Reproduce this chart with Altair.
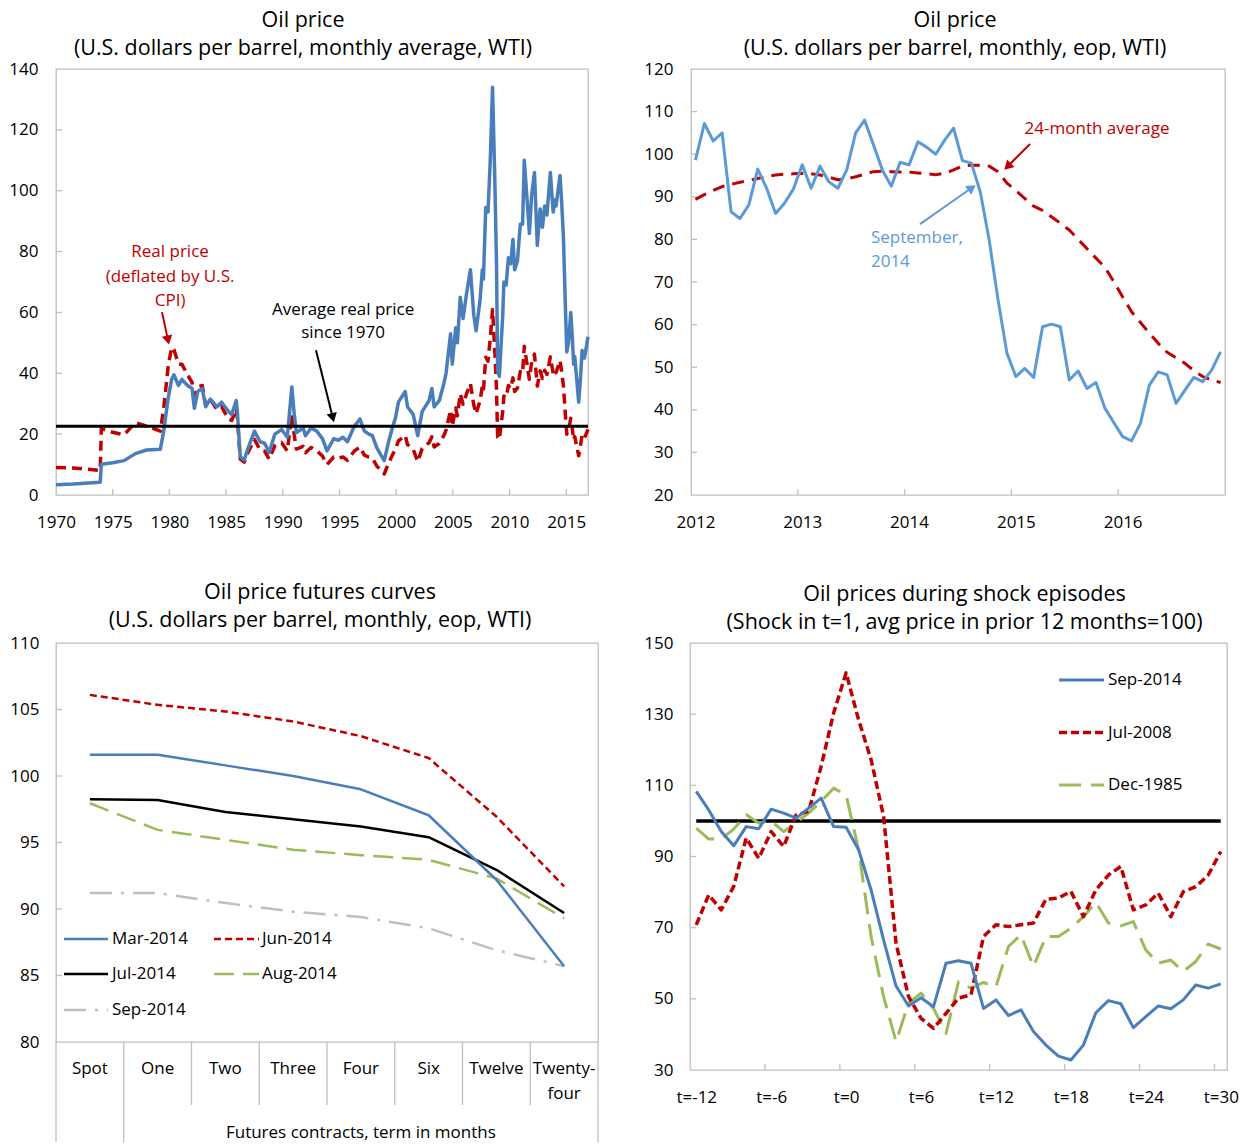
import json
import math
import altair as alt
import pandas as pd

FONT = "Open Sans"
INK = "#000000"
FRAME = "#BFBFBF"
STEEL = "#4A7EBB"
SKY = "#5B9BD5"
RED = "#C00000"
GREEN = "#9BBB59"
SILVER = "#BFBFBF"
LBL = 17

# ======================= TOP-LEFT: monthly average WTI, 1970-2016 =======================
tl_year = [
    1970.0, 1971.5, 1973.9, 1974.0, 1975.0, 1976.0, 1977.0, 1978.0, 1979.2, 1979.5,
    1979.9, 1980.2, 1980.4, 1980.8, 1981.1, 1981.6, 1982.0, 1982.2, 1982.5, 1982.9,
    1983.2, 1983.6, 1984.2, 1984.6, 1985.2, 1985.5, 1985.9, 1986.0, 1986.25, 1986.6,
    1986.9, 1987.5, 1988.0, 1988.4, 1988.8, 1989.3, 1989.9, 1990.4, 1990.8, 1991.0,
    1991.2, 1991.8, 1992.0, 1992.5, 1993.0, 1993.5, 1993.9, 1994.5, 1994.9, 1995.3,
    1995.7, 1996.3, 1996.8, 1997.2, 1997.6, 1997.9, 1998.3, 1998.6, 1998.95, 1999.3,
    1999.7, 1999.95, 2000.2, 2000.45, 2000.8, 2001.0, 2001.5, 2001.9, 2002.3, 2002.9,
    2003.15, 2003.35, 2003.8, 2004.2, 2004.4, 2004.8, 2004.95, 2005.25, 2005.4, 2005.65,
    2005.9, 2006.2, 2006.55, 2006.85, 2007.05, 2007.4, 2007.6, 2007.7, 2007.9, 2008.1,
    2008.3, 2008.5, 2008.7, 2008.85, 2008.95, 2009.1, 2009.4, 2009.5, 2009.7, 2009.9,
    2010.1, 2010.3, 2010.45, 2010.7, 2010.95, 2011.15, 2011.3, 2011.55, 2011.75, 2011.95,
    2012.2, 2012.45, 2012.7, 2012.9, 2013.1, 2013.3, 2013.6, 2013.85, 2014.0, 2014.1,
    2014.45, 2014.6, 2014.75, 2014.95, 2015.05, 2015.2, 2015.4, 2015.55, 2015.65, 2015.75,
    2015.95, 2016.1, 2016.25, 2016.4, 2016.6, 2016.75, 2016.92]
tl_nominal = [
    3.4, 3.6, 4.2, 10.1, 10.6, 11.3, 13.6, 14.8, 15.0, 21.0,
    32.0, 38.0, 39.5, 36.0, 38.0, 36.0, 35.0, 28.5, 34.0, 35.0,
    29.0, 31.5, 29.0, 30.5, 27.5, 26.5, 31.0, 27.0, 12.5, 11.5,
    15.0, 21.0, 17.5, 17.0, 14.0, 20.0, 21.5, 19.0, 35.5, 27.0,
    20.5, 22.0, 19.5, 22.0, 21.0, 18.5, 14.5, 18.5, 18.0, 19.0,
    17.5, 22.5, 25.0, 21.0, 20.0, 19.5, 15.5, 13.5, 11.3, 17.0,
    22.5, 25.5, 30.5, 32.0, 34.0, 29.0, 26.5, 19.5, 27.5, 31.0,
    35.0, 29.0, 31.0, 36.5, 40.0, 53.0, 43.0, 55.0, 50.0, 65.0,
    58.0, 66.0, 74.0, 59.0, 54.0, 64.0, 74.0, 71.0, 94.5, 93.0,
    110.0, 134.0, 104.0, 76.0, 41.0, 39.0, 59.0, 70.0, 69.0, 78.0,
    76.0, 84.0, 74.0, 77.0, 89.0, 89.0, 110.0, 97.0, 86.0, 98.5,
    106.0, 82.0, 94.0, 88.0, 95.0, 92.0, 106.0, 93.0, 97.0, 95.0,
    105.0, 96.0, 85.0, 59.0, 47.0, 50.0, 60.0, 51.0, 43.0, 45.5,
    37.0, 30.5, 38.0, 47.5, 45.0, 48.0, 52.0]
tl_real = [
    9.0, 8.9, 8.1, 21.8, 20.6, 19.8, 23.8, 22.6, 21.0, 28.5,
    42.5, 48.5, 47.8, 43.0, 43.0, 39.5, 37.0, 30.0, 35.5, 36.0,
    29.5, 31.5, 28.0, 29.0, 25.0, 24.5, 28.5, 25.0, 11.8, 10.8,
    13.7, 18.3, 14.8, 14.4, 11.8, 16.2, 17.2, 14.5, 26.5, 20.0,
    15.1, 16.0, 13.9, 15.6, 14.5, 12.8, 10.0, 12.5, 12.1, 12.5,
    11.4, 14.4, 15.8, 13.1, 12.4, 12.1, 9.5, 8.3, 6.9, 10.2,
    13.4, 15.1, 17.8, 18.5, 19.6, 16.6, 15.0, 11.0, 15.3, 17.2,
    19.1, 15.8, 16.9, 19.5, 21.3, 27.9, 22.6, 28.6, 26.0, 33.3,
    29.8, 33.2, 36.6, 29.5, 26.7, 31.0, 35.8, 34.3, 45.3, 44.0,
    51.5, 61.0, 47.4, 34.8, 19.0, 18.2, 27.5, 32.5, 32.0, 36.0,
    35.0, 38.5, 34.0, 35.2, 40.6, 40.0, 48.9, 42.8, 38.0, 43.7,
    46.3, 35.8, 40.8, 38.3, 41.0, 39.6, 45.4, 39.9, 41.2, 40.2,
    44.2, 40.5, 35.9, 25.1, 20.0, 21.2, 25.2, 21.4, 18.1, 19.2,
    15.6, 12.9, 16.0, 19.9, 18.8, 20.0, 21.6]
tl_avg_real = 22.6
tl_xdom = [1970, 2016.92]
tl_ydom = [0, 140]
tl_xticks = [1970, 1975, 1980, 1985, 1990, 1995, 2000, 2005, 2010, 2015]
tl_yticks = [0, 20, 40, 60, 80, 100, 120, 140]
tl_title = ["Oil price", "(U.S. dollars per barrel, monthly average, WTI)"]
tl_note_real = ["Real price", "(deflated by U.S.", "CPI)"]
tl_note_real_x, tl_note_real_y = 1980.06, [79.9, 71.6, 63.8]
tl_note_avg = ["Average real price", "since 1970"]
tl_note_avg_x, tl_note_avg_y = 1995.32, [60.8, 53.2]

# ======================= TOP-RIGHT: monthly eop, 2012-2016 =======================
tr_year_labels = ["2012", "2013", "2014", "2015", "2016"]
tr_price = [
    98.6, 107.2, 103.1, 105.0, 86.5, 84.9, 88.1, 96.5, 92.0, 86.1, 88.5, 91.8,
    97.5, 92.0, 97.2, 93.5, 92.0, 96.3, 105.0, 108.0, 102.2, 96.3, 92.5, 98.1,
    97.5, 102.9, 101.6, 100.0, 103.3, 106.1, 98.5, 97.9, 91.2, 79.9, 65.8, 53.3,
    47.8, 49.7, 47.6, 59.5, 60.1, 59.5, 47.0, 49.1, 45.0, 46.4, 40.4, 37.0,
    33.7, 32.7, 36.8, 45.8, 48.9, 48.2, 41.5, 44.6, 47.6, 46.6, 49.3, 53.6]
tr_avg24 = [
    89.4, 90.5, 91.5, 92.4, 92.9, 93.4, 93.8, 94.3, 94.8, 95.1, 95.3, 95.4,
    95.5, 95.4, 95.1, 94.6, 94.0, 94.2, 94.7, 95.3, 95.9, 96.0, 95.9, 95.8,
    95.8, 95.6, 95.4, 95.2, 95.5, 96.3, 97.2, 97.4, 97.4, 97.2, 95.9, 93.2,
    91.5, 89.6, 87.8, 86.8, 85.3, 83.8, 82.2, 80.0, 77.8, 75.6, 73.5, 70.1,
    66.5, 63.0, 60.5, 58.0, 55.6, 53.5, 52.2, 50.9, 49.2, 47.8, 47.0, 46.4]
tr_yticks = [20, 30, 40, 50, 60, 70, 80, 90, 100, 110, 120]
tr_title = ["Oil price", "(U.S. dollars per barrel, monthly, eop, WTI)"]
tr_note_avg = "24-month average"
tr_note_avg_xy = (45.12, 105.9)
tr_note_sep = ["September,", "2014"]
tr_note_sep_x, tr_note_sep_y = 19.72, [80.3, 74.7]

# ======================= BOTTOM-LEFT: futures curves =======================
bl_terms = ["Spot", "One", "Two", "Three", "Four", "Six", "Twelve", "Twenty-four"]
bl_group_label = "Futures contracts, term in months"
bl_series = ["Mar-2014", "Jun-2014", "Jul-2014", "Aug-2014", "Sep-2014"]
bl_mar = [101.6, 101.6, 100.8, 100.0, 99.0, 97.05, 92.2, 85.7]
bl_jun = [106.1, 105.35, 104.85, 104.1, 103.0, 101.35, 96.95, 91.7]
bl_jul = [98.25, 98.2, 97.3, 96.75, 96.2, 95.4, 92.95, 89.7]
bl_aug = [97.95, 95.95, 95.2, 94.45, 94.05, 93.7, 92.3, 89.3]
bl_sep = [91.2, 91.2, 90.45, 89.8, 89.4, 88.55, 86.9, 85.7]
bl_yticks = [80, 85, 90, 95, 100, 105, 110]
bl_title = ["Oil price futures curves", "(U.S. dollars per barrel, monthly, eop, WTI)"]

# ======================= BOTTOM-RIGHT: shock episodes =======================
br_t_labels = [-12, -6, 0, 6, 12, 18, 24, 30]
br_series = ["Sep-2014", "Jul-2008", "Dec-1985"]
br_sep2014 = [108.3, 103.1, 97.0, 93.0, 98.4, 97.8, 103.3, 102.2, 100.8, 103.6, 106.4, 98.4, 98.2,
              91.9, 80.6, 66.6, 53.6, 48.0, 50.3, 47.8, 60.0, 60.7, 60.0,
              47.3, 49.7, 45.3, 46.9, 40.8, 37.0, 33.9, 32.8, 37.0, 46.1,
              49.5, 48.6, 41.9, 45.0, 48.0, 47.2, 49.7, 53.9, 53.0, 54.2]
br_jul2008 = [70.8, 79.2, 75.0, 81.6, 95.2, 89.5, 97.0, 92.8, 101.7, 102.7, 115.3, 130.3, 141.6,
              128.4, 117.2, 101.3, 65.6, 50.6, 44.5, 41.7, 45.9, 50.2, 51.1,
              67.5, 70.8, 70.3, 70.8, 71.3, 78.0, 78.3, 80.2, 73.1, 80.6,
              84.8, 87.2, 75.0, 76.4, 79.7, 73.1, 80.1, 81.5, 84.8, 91.4]
br_dec1985 = [98.0, 94.9, 94.9, 97.7, 101.7, 99.4, 100.0, 97.0, 99.6, 102.2, 105.5, 109.2, 107.3,
              91.9, 67.5, 50.6, 38.0, 48.8, 51.6, 47.3, 40.3, 54.8, 53.0,
              54.6, 53.4, 64.7, 68.0, 59.1, 67.5, 67.5, 69.8, 73.1, 77.1,
              71.3, 70.5, 71.7, 63.7, 60.0, 60.9, 57.7, 60.5, 65.4, 64.0]
br_base = 100
br_yticks = [30, 50, 70, 90, 110, 130, 150]
br_title = ["Oil prices during shock episodes", "(Shock in t=1, avg price in prior 12 months=100)"]

# ======================= panel sizes =======================
TL_W, TL_H = 532, 426
TR_W, TR_H = 534, 426
BL_W, BL_H = 542, 399
BR_W, BR_H = 537, 427
ROW_GAP = 148
XPAD = 19


def axis(values, pad, **kw):
    return alt.Axis(values=values, title=None, labelPadding=pad, labelFlush=False,
                    labelOverlap=False, ticks=False, tickSize=0, domain=False, grid=False, **kw)


def line(xs, ys, xe, ye, color, width, dash=None):
    kw = dict(color=color, strokeWidth=width, strokeJoin="round", strokeCap="butt")
    if dash:
        kw["strokeDash"] = dash
    df = pd.DataFrame({"x": xs, "y": ys})
    return alt.Chart(df).mark_line(**kw).encode(x=xe, y=ye)


def inner_yticks(vals, ye):
    return alt.Chart(pd.DataFrame({"y": vals})).mark_rule(color=FRAME, strokeWidth=1.3).encode(
        y=ye, x=alt.value(0), x2=alt.value(6))


def inner_xticks(vals, xe, H):
    return alt.Chart(pd.DataFrame({"x": vals})).mark_rule(color=FRAME, strokeWidth=1.3).encode(
        x=xe, y=alt.value(H), y2=alt.value(H - 6))


def texts(xs, ys, labels, xe, ye, color, align="center"):
    df = pd.DataFrame({"x": xs, "y": ys, "t": labels})
    return alt.Chart(df).mark_text(color=color, align=align, baseline="middle", font=FONT,
                                   fontSize=LBL).encode(x=xe, y=ye, text="t:N")


def arrow(x1, y1, x2, y2, xdom, ydom, W, H, xe, ye, color, width=2.0, size=110, back=5.0):
    sx = W / (xdom[1] - xdom[0])
    sy = H / (ydom[1] - ydom[0])
    dx, dy = (x2 - x1) * sx, -(y2 - y1) * sy
    L = math.hypot(dx, dy)
    ux, uy = dx / L, dy / L
    ang = math.degrees(math.atan2(dx, -dy)) % 360
    hx, hy = x2 - back * ux / sx, y2 + back * uy / sy
    shaft = alt.Chart(pd.DataFrame({"x": [x1], "y": [y1], "x2": [hx], "y2": [hy]})).mark_rule(
        color=color, strokeWidth=width).encode(x=xe, y=ye, x2="x2:Q", y2="y2:Q")
    head = alt.Chart(pd.DataFrame({"x": [hx], "y": [hy]})).mark_point(
        shape="triangle-up", filled=True, color=color, opacity=1, size=size, angle=ang,
        strokeWidth=0).encode(x=xe, y=ye)
    return [shaft, head]


def legend_entry(label, color, width, dash, x0, x1, tx, y):
    kw = dict(color=color, strokeWidth=width, strokeCap="butt")
    if dash:
        kw["strokeDash"] = dash
    df = pd.DataFrame({"t": [label]})
    sample = alt.Chart(df).mark_rule(**kw).encode(x=alt.value(x0), x2=alt.value(x1), y=alt.value(y))
    txt = alt.Chart(df).mark_text(align="left", baseline="middle", font=FONT, fontSize=LBL,
                                  color=INK).encode(x=alt.value(tx), y=alt.value(y), text="t:N")
    return [sample, txt]


# ----------------------- TOP-LEFT panel -----------------------
tl_x = alt.X("x:Q", scale=alt.Scale(domain=tl_xdom, nice=False, zero=False),
             axis=axis(tl_xticks, XPAD, format="d"))
tl_y = alt.Y("y:Q", scale=alt.Scale(domain=tl_ydom, nice=False, zero=False),
             axis=axis(tl_yticks, 18))
tl_layers = [
    inner_xticks(tl_xticks[1:], tl_x, TL_H),
    inner_yticks(tl_yticks[1:-1], tl_y),
    line(tl_year, tl_real, tl_x, tl_y, RED, 3.5, [10, 6]),
    line(tl_year, tl_nominal, tl_x, tl_y, STEEL, 3.5),
    alt.Chart(pd.DataFrame({"y": [tl_avg_real]})).mark_rule(color=INK, strokeWidth=3).encode(y=tl_y),
    texts([tl_note_real_x] * 3, tl_note_real_y, tl_note_real, tl_x, tl_y, RED),
    texts([tl_note_avg_x] * 2, tl_note_avg_y, tl_note_avg, tl_x, tl_y, INK),
]
tl_layers += arrow(1979.35, 60.1, 1979.97, 49.3, tl_xdom, tl_ydom, TL_W, TL_H, tl_x, tl_y, RED)
tl_layers += arrow(1992.93, 47.6, 1994.52, 23.8, tl_xdom, tl_ydom, TL_W, TL_H, tl_x, tl_y, INK)
tl = alt.layer(*tl_layers).properties(
    width=TL_W, height=TL_H, title=alt.TitleParams(text=tl_title, dx=-19))

# ----------------------- TOP-RIGHT panel -----------------------
n_tr = len(tr_price)
tr_xdom = [-0.5, n_tr - 0.5]
tr_ydom = [20, 120]
tr_label_expr = json.dumps(tr_year_labels) + "[floor(datum.value / 12)]"
tr_x = alt.X("x:Q", scale=alt.Scale(domain=tr_xdom, nice=False, zero=False),
             axis=axis([12 * i for i in range(len(tr_year_labels))], XPAD, labelExpr=tr_label_expr))
tr_y = alt.Y("y:Q", scale=alt.Scale(domain=tr_ydom, nice=False, zero=False),
             axis=axis(tr_yticks, 18))
tr_idx = list(range(n_tr))
tr_layers = [
    inner_xticks([12 * i - 0.5 for i in range(1, len(tr_year_labels))], tr_x, TR_H),
    inner_yticks(tr_yticks[1:-1], tr_y),
    line(tr_idx, tr_avg24, tr_x, tr_y, RED, 3, [12, 8]),
    line(tr_idx, tr_price, tr_x, tr_y, SKY, 3),
    texts([tr_note_avg_xy[0]], [tr_note_avg_xy[1]], [tr_note_avg], tr_x, tr_y, RED),
    texts([tr_note_sep_x] * 2, tr_note_sep_y, tr_note_sep, tr_x, tr_y, SKY, align="left"),
]
tr_layers += arrow(37.6, 102.4, 34.67, 96.3, tr_xdom, tr_ydom, TR_W, TR_H, tr_x, tr_y, RED)
tr_layers += arrow(25.23, 83.6, 31.52, 92.8, tr_xdom, tr_ydom, TR_W, TR_H, tr_x, tr_y, SKY)
tr = alt.layer(*tr_layers).properties(
    width=TR_W, height=TR_H, title=alt.TitleParams(text=tr_title, dx=-3))

# ----------------------- BOTTOM-LEFT panel -----------------------
n_bl = len(bl_terms)
bl_x = alt.X("x:Q", scale=alt.Scale(domain=[-0.5, n_bl - 0.5], nice=False, zero=False), axis=None)
bl_y = alt.Y("y:Q", scale=alt.Scale(domain=[80, 110], nice=False, zero=False),
             axis=axis(bl_yticks, 17))
bl_idx = list(range(n_bl))
bl_line1 = [t.split("-")[0] + ("-" if "-" in t else "") for t in bl_terms]
bl_line2 = [t.split("-")[1] if "-" in t else "" for t in bl_terms]
bl_styles = {
    "Mar-2014": (bl_mar, STEEL, 2.5, None),
    "Jun-2014": (bl_jun, RED, 2.5, [7, 4]),
    "Jul-2014": (bl_jul, INK, 2.5, None),
    "Aug-2014": (bl_aug, GREEN, 2.5, [20, 9]),
    "Sep-2014": (bl_sep, SILVER, 2.5, [22, 9, 3, 9]),
}
bl_layers = [inner_yticks(bl_yticks[1:-1], bl_y)]
for name in ["Sep-2014", "Aug-2014", "Jul-2014", "Mar-2014", "Jun-2014"]:
    vals, col, w, d = bl_styles[name]
    bl_layers.append(line(bl_idx, vals, bl_x, bl_y, col, w, d))
bounds = [i - 0.5 for i in range(n_bl + 1)]
long_b = [bounds[0], bounds[1], bounds[-1]]
short_b = bounds[2:-1]
bl_layers.append(alt.Chart(pd.DataFrame({"x": short_b})).mark_rule(color=FRAME, strokeWidth=1.3).encode(
    x=bl_x, y=alt.value(BL_H), y2=alt.value(BL_H + 63)))
bl_layers.append(alt.Chart(pd.DataFrame({"x": long_b})).mark_rule(color=FRAME, strokeWidth=1.3).encode(
    x=bl_x, y=alt.value(BL_H), y2=alt.value(BL_H + 100)))
bl_layers.append(alt.Chart(pd.DataFrame({"x": bl_idx, "t": bl_line1})).mark_text(
    font=FONT, fontSize=LBL, color=INK, baseline="middle").encode(x=bl_x, y=alt.value(BL_H + 27), text="t:N"))
bl_layers.append(alt.Chart(pd.DataFrame({"x": bl_idx, "t": bl_line2})).mark_text(
    font=FONT, fontSize=LBL, color=INK, baseline="middle").encode(x=bl_x, y=alt.value(BL_H + 52), text="t:N"))
bl_layers.append(alt.Chart(pd.DataFrame({"x": [(1 + n_bl - 1) / 2], "t": [bl_group_label]})).mark_text(
    font=FONT, fontSize=LBL, color=INK, baseline="middle").encode(x=bl_x, y=alt.value(BL_H + 91), text="t:N"))
bl_leg_pos = {"Mar-2014": (8, 52, 56, 296), "Jun-2014": (158, 203, 206, 296),
              "Jul-2014": (8, 52, 56, 331), "Aug-2014": (158, 203, 206, 331),
              "Sep-2014": (8, 52, 56, 367)}
for name in bl_series:
    vals, col, w, d = bl_styles[name]
    x0, x1, tx, yy = bl_leg_pos[name]
    bl_layers += legend_entry(name, col, w, d, x0, x1, tx, yy)
bl = alt.layer(*bl_layers).properties(
    width=BL_W, height=BL_H, title=alt.TitleParams(text=bl_title, dx=-7, dy=-2))

# ----------------------- BOTTOM-RIGHT panel -----------------------
br_t = list(range(br_t_labels[0], br_t_labels[-1] + 1))
br_xdom = [br_t[0] - 0.5, br_t[-1] + 0.5]
br_x = alt.X("x:Q", scale=alt.Scale(domain=br_xdom, nice=False, zero=False),
             axis=axis(br_t_labels, XPAD, labelExpr="'t=' + datum.value"))
br_y = alt.Y("y:Q", scale=alt.Scale(domain=[30, 150], nice=False, zero=False),
             axis=axis(br_yticks, 17))
br_styles = {
    "Sep-2014": (br_sep2014, STEEL, 3, None),
    "Jul-2008": (br_jul2008, RED, 3.5, [8, 4]),
    "Dec-1985": (br_dec1985, GREEN, 3, [22, 10]),
}
br_layers = [
    inner_xticks([v - 0.5 for v in br_t_labels[1:]], br_x, BR_H),
    inner_yticks(br_yticks[1:-1], br_y),
    alt.Chart(pd.DataFrame({"x": [br_t[0]], "x2": [br_t[-1]], "y": [br_base]})).mark_rule(
        color=INK, strokeWidth=3.5).encode(x=br_x, x2="x2:Q", y=br_y),
]
for name in ["Dec-1985", "Jul-2008", "Sep-2014"]:
    vals, col, w, d = br_styles[name]
    br_layers.append(line(br_t, vals, br_x, br_y, col, w, d))
for i, name in enumerate(br_series):
    vals, col, w, d = br_styles[name]
    br_layers += legend_entry(name, col, w, d, 369, 414, 418, 37 + 52.5 * i)
br = alt.layer(*br_layers).properties(
    width=BR_W, height=BR_H, title=alt.TitleParams(text=br_title, dx=6))

# ----------------------- assemble -----------------------
top = alt.hconcat(tl, tr, spacing=103, bounds="flush")
bottom = alt.hconcat(bl, br, spacing=92, bounds="flush")
# with flush bounds the nested rows contribute no height, so the row step is height + gap
chart = alt.vconcat(top, bottom, spacing=TL_H + ROW_GAP, bounds="flush").properties(
    padding={"top": 0, "left": 0, "right": 0, "bottom": 0}
).configure_view(
    stroke=FRAME, strokeWidth=1.3
).configure_axis(
    labelFont=FONT, labelFontSize=LBL, labelColor=INK
).configure_title(
    font=FONT, fontSize=21.5, fontWeight="normal", color=INK, anchor="middle", frame="group",
    lineHeight=28, offset=1
)

chart.save("out.html", embed_options={"renderer": "svg", "actions": False})
